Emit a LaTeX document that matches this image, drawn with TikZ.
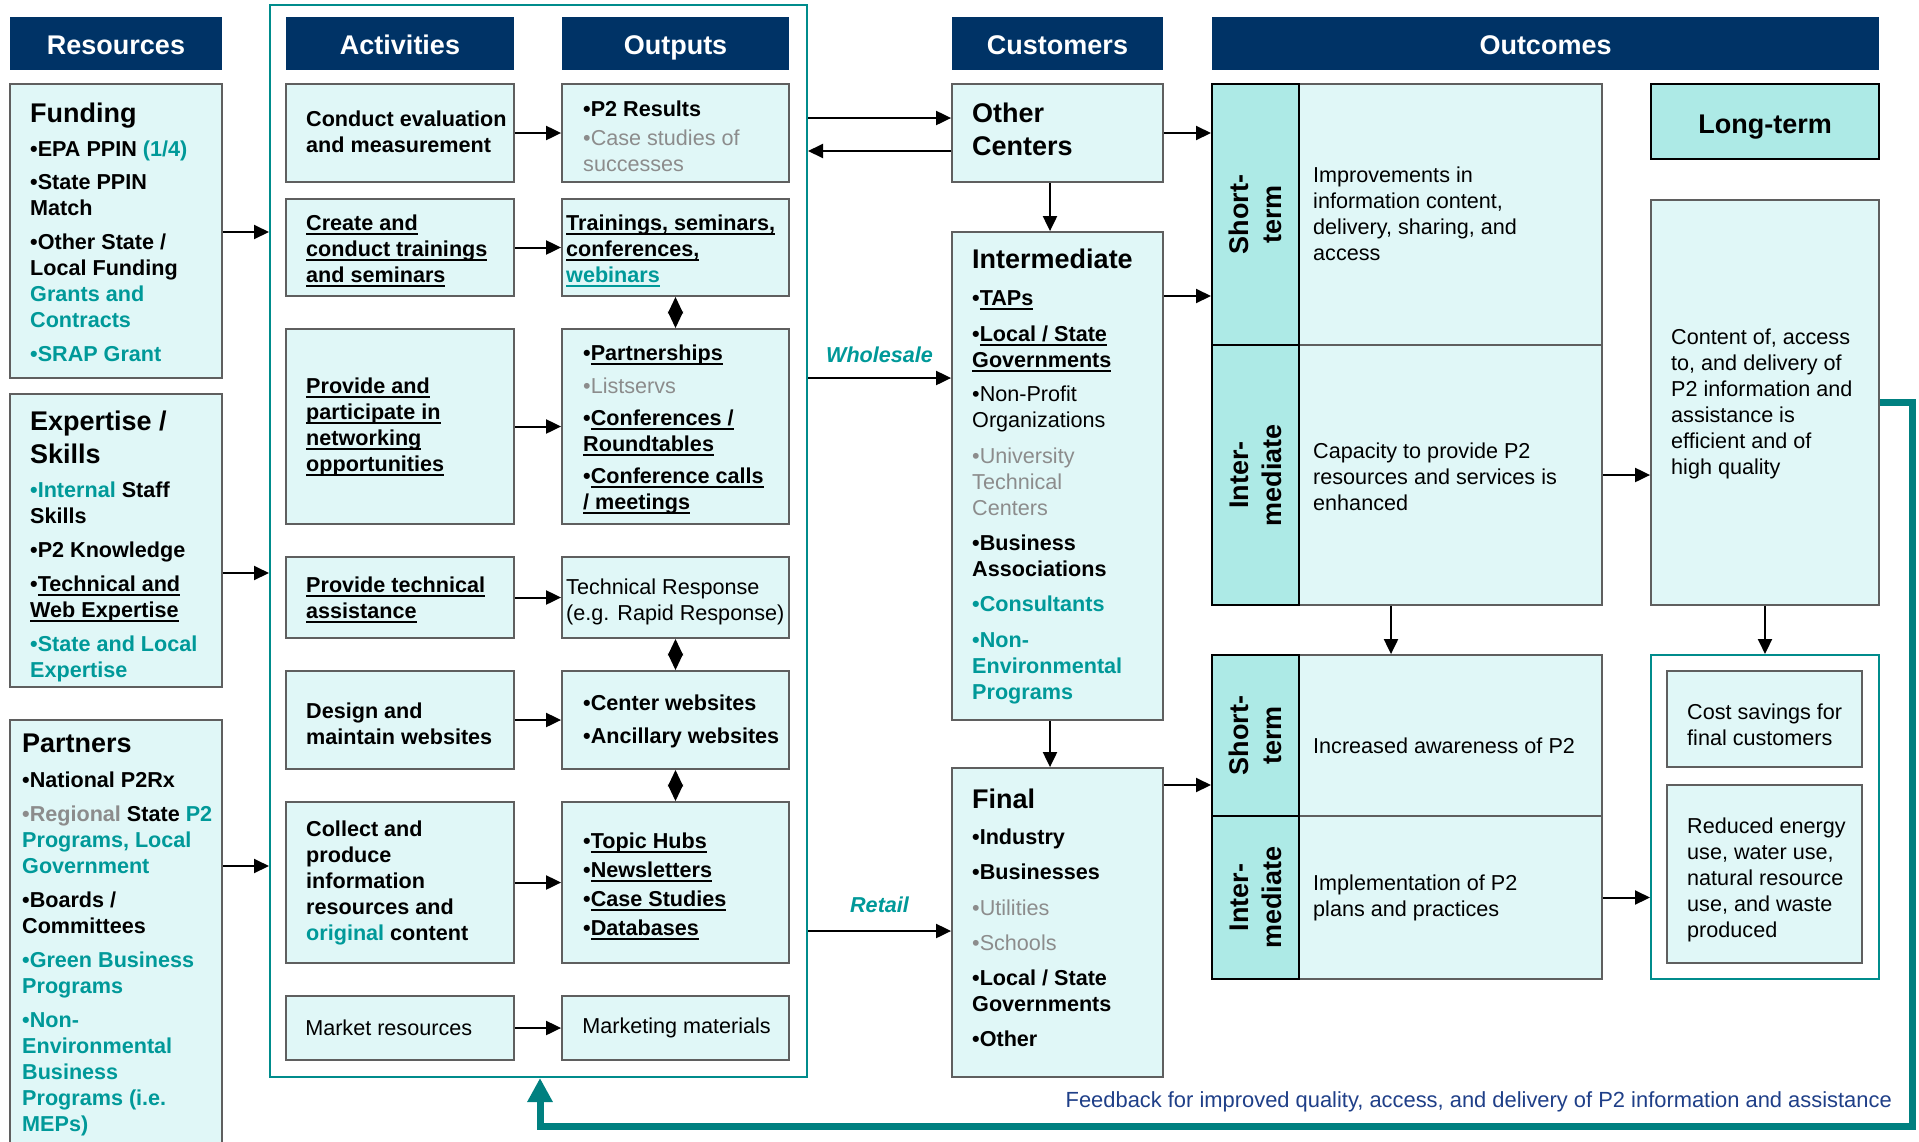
\documentclass[tikz,border=0pt]{standalone}
\usepackage{fontspec}
\setmainfont{Liberation Sans}
\usetikzlibrary{arrows.meta}
\definecolor{navy}{RGB}{0,51,102}
\definecolor{tealT}{RGB}{0,153,153}
\definecolor{grayT}{RGB}{140,140,140}
\definecolor{boxfill}{RGB}{224,247,247}
\definecolor{sidefill}{RGB}{173,234,230}
\definecolor{boxline}{RGB}{95,95,95}
\definecolor{tealL}{RGB}{0,140,140}
\definecolor{fbline}{RGB}{0,128,128}
\definecolor{fbblue}{RGB}{31,63,136}
\newcommand\ulx[1]{\leavevmode\setbox0\hbox{#1}\rlap{\rule[-4pt]{\wd0}{1.8pt}}\box0}
\newcommand\mkbox[7]{\node[#1,minimum width={(#5-#3)*1pt},minimum height={(#6-#4)*1pt}] (#2) at ({(#3+#5)/2},{(#4+#6)/2}) {#7};}
\newcommand\ttlx[1]{{\fontsize{27}{33}\selectfont #1}}
\begin{document}
\begin{tikzpicture}[x=1pt,y=-1pt,
  hdr/.style={fill=navy,draw=none,text=white,font=\fontsize{27}{33}\selectfont\bfseries,inner sep=0pt,text height=22.4pt,text depth=0pt},
  box/.style={fill=boxfill,draw=boxline,line width=1.8pt,inner sep=0pt},
  side/.style={fill=sidefill,draw=black,line width=2pt,inner sep=0pt},
  tbox/.style={fill=white,draw=tealL,line width=2pt,inner sep=0pt},
  txt/.style={inner sep=0pt,align=left,anchor=north west,font=\fontsize{21.6}{26}\selectfont},
  btxt/.style={txt,font=\fontsize{21.6}{26}\selectfont\bfseries},
  sidelbl/.style={inner sep=0pt,align=center,rotate=90,font=\fontsize{27}{33}\selectfont\bfseries},
  wlabel/.style={inner sep=0pt,text=tealT,font=\fontsize{21.6}{26}\selectfont\bfseries\itshape},
  arr/.style={line width=2pt,-{Triangle[length=15pt,width=14pt]}},
  dia/.style={line width=2pt,{Triangle[length=16.5pt,width=15pt]}-{Triangle[length=16.5pt,width=15pt]}},
  fb/.style={draw=fbline,line width=7pt,line join=miter,-{Triangle[length=24pt,width=24pt]}}
]
\useasboundingbox (0,0) rectangle (1919,1141);
\fill[white] (0,0) rectangle (1919,1141);

% outer teal frame round activities and outputs
\mkbox{draw=tealL,line width=2pt,inner sep=0pt}{outer}{270}{5}{807}{1077}{}

% headers
\mkbox{hdr}{hRes}{10}{17}{222}{70}{Resources}
\mkbox{hdr}{hAct}{286}{17}{514}{70}{Activities}
\mkbox{hdr}{hOut}{562}{17}{789}{70}{Outputs}
\mkbox{hdr}{hCus}{952}{17}{1163}{70}{Customers}
\mkbox{hdr}{hOutc}{1212}{17}{1879}{70}{Outcomes}

% resources
\mkbox{box}{funding}{10}{84}{222}{378}{}
\mkbox{box}{expertise}{10}{394}{222}{687}{}
\mkbox{box}{partners}{10}{720}{222}{1175}{}

\node[btxt] (fundingT) at (30,103) {\ttlx{Funding}\\[8pt]•EPA PPIN {\color{tealT}(1/4)}\\[7pt]•State PPIN\\Match\\[8pt]•Other State /\\Local Funding\\{\color{tealT}Grants and}\\{\color{tealT}Contracts}\\[8pt]{\color{tealT}•SRAP Grant}};
\node[btxt] (expertiseT) at (30,411) {\ttlx{Expertise /}\\[7pt]\ttlx{Skills}\\[8pt]{\color{tealT}•Internal} Staff\\Skills\\[8pt]•P2 Knowledge\\[8pt]•\ulx{Technical and}\\\ulx{Web Expertise}\\[8pt]{\color{tealT}•State and Local}\\{\color{tealT}Expertise}};
\node[btxt] (partnersT) at (22,734) {\ttlx{Partners}\\[9pt]•National P2Rx\\[8pt]{\color{grayT}•Regional} State {\color{tealT}P2}\\{\color{tealT}Programs, Local}\\{\color{tealT}Government}\\[8pt]•Boards /\\Committees\\[8pt]{\color{tealT}•Green Business}\\{\color{tealT}Programs}\\[8pt]{\color{tealT}•Non-}\\{\color{tealT}Environmental}\\{\color{tealT}Business}\\{\color{tealT}Programs (i.e.}\\{\color{tealT}MEPs)}};

% activities
\mkbox{box}{conduct}{286}{84}{514}{182}{}
\mkbox{box}{create}{286}{199}{514}{296}{}
\mkbox{box}{provide}{286}{329}{514}{524}{}
\mkbox{box}{tech}{286}{557}{514}{638}{}
\mkbox{box}{design}{286}{671}{514}{769}{}
\mkbox{box}{collect}{286}{802}{514}{963}{}
\mkbox{box}{market}{286}{996}{514}{1060}{}

\node[btxt] (conductT) at (306,111) {Conduct evaluation\\and measurement};
\node[btxt] (createT) at (306,215) {\ulx{Create and}\\\ulx{conduct trainings}\\\ulx{and seminars}};
\node[btxt] (provideT) at (306,378) {\ulx{Provide and}\\\ulx{participate in}\\\ulx{networking}\\\ulx{opportunities}};
\node[btxt] (techT) at (306,577) {\ulx{Provide technical}\\\ulx{assistance}};
\node[btxt] (designT) at (306,703) {Design and\\maintain websites};
\node[btxt] (collectT) at (306,821) {Collect and\\produce\\information\\resources and\\{\color{tealT}original} content};
\node[txt,anchor=west] (marketT) at ([xshift=20pt]market.west) {Market resources};

% outputs
\mkbox{box}{p2res}{562}{84}{789}{182}{}
\mkbox{box}{train}{562}{199}{789}{296}{}
\mkbox{box}{part}{562}{329}{789}{524}{}
\mkbox{box}{tresp}{562}{557}{789}{638}{}
\mkbox{box}{webs}{562}{671}{789}{769}{}
\mkbox{box}{topic}{562}{802}{789}{963}{}
\mkbox{box}{mkt}{562}{996}{789}{1060}{}

\node[txt] (p2resT) at (583,101) {\textbf{•P2 Results}\\[3pt]{\color{grayT}•Case studies of}\\{\color{grayT}successes}};
\node[btxt] (trainT) at (566,215) {\ulx{Trainings, seminars,}\\\ulx{conferences,}\\{\color{tealT}\ulx{webinars}}};
\node[btxt] (partT) at (583,345) {•\ulx{Partnerships}\\[7pt]{\mdseries\color{grayT}•Listservs}\\[6pt]•\ulx{Conferences /}\\\ulx{Roundtables}\\[6pt]•\ulx{Conference calls}\\\ulx{/ meetings}};
\node[txt] (trespT) at (566,579) {Technical Response\\(e.g. Rapid Response)};
\node[btxt] (websT) at (583,695) {•Center websites\\[7pt]•Ancillary websites};
\node[btxt] (topicT) at (583,833) {•\ulx{Topic Hubs}\\[3pt]•\ulx{Newsletters}\\[3pt]•\ulx{Case Studies}\\[3pt]•\ulx{Databases}};
\node[txt,anchor=west] (mktT) at ([xshift=21pt]mkt.west) {Marketing materials};

% customers
\mkbox{box}{other}{952}{84}{1163}{182}{}
\mkbox{box}{inter}{952}{232}{1163}{720}{}
\mkbox{box}{final}{952}{768}{1163}{1077}{}

\node[btxt,font=\fontsize{27}{33}\selectfont\bfseries] (otherT) at (972,103) {Other\\Centers};
\node[btxt] (interT) at (972,249) {\ttlx{Intermediate}\\[11pt]•\ulx{TAPs}\\[10pt]•\ulx{Local / State}\\\ulx{Governments}\\[8pt]{\mdseries •Non-Profit}\\{\mdseries Organizations}\\[10pt]{\mdseries\color{grayT}•University}\\{\mdseries\color{grayT}Technical}\\{\mdseries\color{grayT}Centers}\\[9pt]•Business\\Associations\\[9pt]{\color{tealT}•Consultants}\\[10pt]{\color{tealT}•Non-}\\{\color{tealT}Environmental}\\{\color{tealT}Programs}};
\node[btxt] (finalT) at (972,789) {\ttlx{Final}\\[10pt]•Industry\\[9pt]•Businesses\\[10pt]{\mdseries\color{grayT}•Utilities}\\[9pt]{\mdseries\color{grayT}•Schools}\\[9pt]•Local / State\\Governments\\[9pt]•Other};

% outcomes
\mkbox{box}{shortUC}{1299}{84}{1602}{345}{}
\mkbox{box}{interUC}{1299}{345}{1602}{605}{}
\mkbox{side}{shortUS}{1212}{84}{1299}{345}{}
\mkbox{side}{interUS}{1212}{345}{1299}{605}{}
\mkbox{box}{shortLC}{1299}{655}{1602}{816}{}
\mkbox{box}{interLC}{1299}{816}{1602}{979}{}
\mkbox{side}{shortLS}{1212}{655}{1299}{816}{}
\mkbox{side}{interLS}{1212}{816}{1299}{979}{}

\node[sidelbl] (shortUL) at (shortUS.center) {Short-\\term};
\node[sidelbl] (interUL) at (interUS.center) {Inter-\\mediate};
\node[sidelbl] (shortLL) at (shortLS.center) {Short-\\term};
\node[sidelbl] (interLL) at (interLS.center) {Inter-\\mediate};

\node[txt] (shortUT) at (1313,167) {Improvements in\\information content,\\delivery, sharing, and\\access};
\node[txt] (interUT) at (1313,443) {Capacity to provide P2\\resources and services is\\enhanced};
\node[txt,anchor=west] (shortLT) at (1313,746) {Increased awareness of P2};
\node[txt] (interLT) at (1313,875) {Implementation of P2\\plans and practices};

\mkbox{side,line width=2.2pt,font=\fontsize{27}{33}\selectfont\bfseries,text height=24.4pt,text depth=0pt}{ltHdr}{1651}{84}{1879}{159}{Long-term}
\mkbox{box}{ltc}{1651}{200}{1879}{605}{}
\mkbox{tbox}{lrbox}{1651}{655}{1879}{979}{}
\mkbox{box}{cost}{1667}{671}{1862}{767}{}
\mkbox{box}{reduced}{1667}{785}{1862}{963}{}

\node[txt] (ltcT) at (1671,329) {Content of, access\\to, and delivery of\\P2 information and\\assistance is\\efficient and of\\high quality};
\node[txt] (costT) at (1687,704) {Cost savings for\\final customers};
\node[txt] (redT) at (1687,818) {Reduced energy\\use, water use,\\natural resource\\use, and waste\\produced};

% level coordinates
\coordinate (yF) at (0,232);
\coordinate (yE) at (0,573);
\coordinate (yP) at (0,866);
\coordinate (yO1) at (0,118);
\coordinate (yO2) at (0,151);
\coordinate (yW) at (0,378);
\coordinate (yR) at (0,931);
\coordinate (yIC) at (0,296);
\coordinate (yFC) at (0,785);
\coordinate (xC) at (1050,0);
\coordinate (xUL) at (1391,0);

% connectors
\draw[arr] (funding.east |- yF) -- (outer.west |- yF);
\draw[arr] (expertise.east |- yE) -- (outer.west |- yE);
\draw[arr] (partners.east |- yP) -- (outer.west |- yP);
\foreach \src/\dst in {conduct/p2res,create/train,provide/part,tech/tresp,design/webs,collect/topic,market/mkt}
  \draw[arr] (\src.east) -- (\dst.west);
\draw[dia] (train.south) -- (part.north);
\draw[dia] (tresp.south) -- (webs.north);
\draw[dia] (webs.south) -- (topic.north);
\draw[arr] (outer.east |- yO1) -- (other.west |- yO1);
\draw[arr] (other.west |- yO2) -- (outer.east |- yO2);
\draw[arr] (outer.east |- yW) -- node[above=14pt,wlabel] (wsl) {Wholesale} (inter.west |- yW);
\draw[arr] (outer.east |- yR) -- node[above=17pt,wlabel] (rtl) {Retail} (final.west |- yR);
\draw[arr] (xC |- other.south) -- (xC |- inter.north);
\draw[arr] (xC |- inter.south) -- (xC |- final.north);
\draw[arr] (other.east) -- (other.east -| shortUS.west);
\draw[arr] (inter.east |- yIC) -- (shortUS.west |- yIC);
\draw[arr] (final.east |- yFC) -- (shortLS.west |- yFC);
\draw[arr] (interUC.east) -- (interUC.east -| ltc.west);
\draw[arr] (interLC.east) -- (interLC.east -| lrbox.west);
\draw[arr] (xUL |- interUC.south) -- (xUL |- shortLC.north);
\draw[arr] (ltc.south) -- (lrbox.north);

% feedback loop
\coordinate (fbR) at (1912,1126);
\coordinate (fbL) at (540,1126);
\draw[fb] (ltc.east) -| (fbR) -- (fbL) -- (fbL |- outer.south);
\node[anchor=base east,inner sep=0pt,text=fbblue,font=\fontsize{21.9}{26}\selectfont] (fbtext) at (1892,1107) {Feedback for improved quality, access, and delivery of P2 information and assistance};
\end{tikzpicture}
\end{document}
